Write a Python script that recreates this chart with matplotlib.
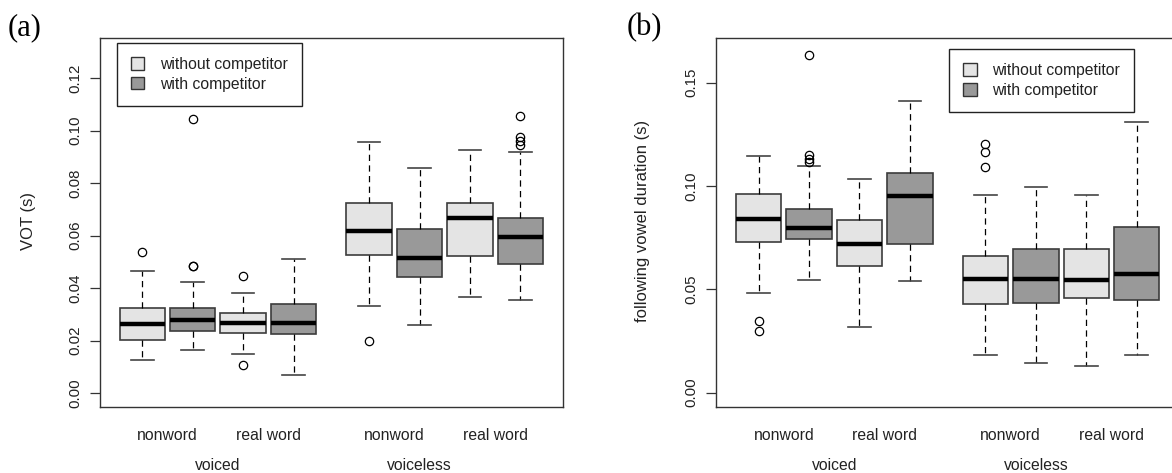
import matplotlib
matplotlib.use("Agg")
import matplotlib.pyplot as plt
from matplotlib.patches import Patch
import matplotlib.transforms as mtransforms

# ---------------- data ----------------
conditions = ["without competitor", "with competitor"]
word_types = ["nonword", "real word"]
voicing = ["voiced", "voiceless"]

# order: voiced-nonword(without, with), voiced-real(without, with),
#        voiceless-nonword(without, with), voiceless-real(without, with)
vot_whislo = [0.0125, 0.0165, 0.0147, 0.0067, 0.0331, 0.0261, 0.0366, 0.0353]
vot_q1     = [0.0203, 0.0238, 0.0227, 0.0224, 0.0527, 0.0441, 0.0523, 0.0493]
vot_med    = [0.0264, 0.0280, 0.0268, 0.0268, 0.0617, 0.0516, 0.0666, 0.0594]
vot_q3     = [0.0324, 0.0324, 0.0305, 0.0338, 0.0726, 0.0627, 0.0726, 0.0669]
vot_whishi = [0.0467, 0.0422, 0.0380, 0.0512, 0.0955, 0.0857, 0.0928, 0.0918]
vot_fliers = [[0.0537], [0.0483, 0.0486, 0.1045], [0.0447, 0.0106], [],
              [0.0200], [], [], [0.0947, 0.0962, 0.0977, 0.1054]]

dur_whislo = [0.0482, 0.0545, 0.0316, 0.0540, 0.0182, 0.0145, 0.0129, 0.0182]
dur_q1     = [0.0728, 0.0745, 0.0611, 0.0718, 0.0431, 0.0435, 0.0460, 0.0450]
dur_med    = [0.0842, 0.0798, 0.0721, 0.0952, 0.0550, 0.0550, 0.0545, 0.0573]
dur_q3     = [0.0961, 0.0889, 0.0836, 0.1064, 0.0663, 0.0697, 0.0694, 0.0802]
dur_whishi = [0.1147, 0.1095, 0.1035, 0.1411, 0.0956, 0.0994, 0.0956, 0.1308]
dur_fliers = [[0.0348, 0.0300], [0.1635, 0.1150, 0.1129, 0.1118], [], [],
              [0.1203, 0.1163, 0.1090], [], [], []]

vot_ticks = [0.00, 0.02, 0.04, 0.06, 0.08, 0.10, 0.12]
dur_ticks = [0.00, 0.05, 0.10, 0.15]

# ---------------- style ----------------
LIGHT = "#e4e4e4"
DARK = "#999999"
EDGE = "#3c3c3c"
SANS = ["Liberation Sans", "DejaVu Sans"]
plt.rcParams["font.family"] = SANS

positions = [1, 2, 3, 4, 5.5, 6.5, 7.5, 8.5]
faces = [LIGHT, DARK] * 4

W, H = 1172, 473
fig = plt.figure(figsize=(W / 100, H / 100), dpi=100)

ax_w = 462.7 / W
ax_h = 368.4 / H
ax_b = 1 - 406.7 / H
axA = fig.add_axes([100 / W, ax_b, ax_w, ax_h])
axB = fig.add_axes([716.3 / W, ax_b, ax_w, ax_h])


def draw(ax, lo, q1, med, q3, hi, fl, ylim, ticks, ticklabels, leg_anchor):
    stats = []
    for i in range(len(med)):
        stats.append(dict(med=med[i], q1=q1[i], q3=q3[i], whislo=lo[i],
                          whishi=hi[i], fliers=fl[i]))
    res = ax.bxp(stats, positions=positions, widths=0.9, capwidths=0.45,
                 patch_artist=True, showfliers=True,
                 boxprops=dict(edgecolor=EDGE, linewidth=1.2),
                 medianprops=dict(color="black", linewidth=3.2,
                                  solid_capstyle="butt"),
                 whiskerprops=dict(color="black", linewidth=0.9,
                                   linestyle=(0, (5, 3.5))),
                 capprops=dict(color="#444444", linewidth=1.2),
                 flierprops=dict(marker="o", markerfacecolor="none",
                                 markeredgecolor="black", markersize=6,
                                 markeredgewidth=0.9, linestyle="none"))
    for patch, fc in zip(res["boxes"], faces):
        patch.set_facecolor(fc)

    ax.set_xlim(0.16, 9.34)
    ax.set_ylim(*ylim)
    ax.set_yticks(ticks)
    ax.set_yticklabels(ticklabels, rotation=90, va="center",
                       fontsize=10.8, color="#222222")
    ax.tick_params(axis="y", length=7, width=0.9, color="#333333", pad=6)
    ax.set_xticks([1.5, 3.5, 6, 8])
    ax.set_xticklabels(word_types * 2, fontsize=11.3, color="#222222")
    ax.tick_params(axis="x", length=0, pad=15)
    for s in ax.spines.values():
        s.set_color("#333333")
        s.set_linewidth(1.0)

    trans = mtransforms.blended_transform_factory(ax.transData, ax.transAxes)
    ax.text(2.5, -0.1718, voicing[0], transform=trans, ha="center",
            va="baseline", fontsize=11.3, color="#222222")
    ax.text(6.5, -0.1718, voicing[1], transform=trans, ha="center",
            va="baseline", fontsize=11.3, color="#222222")

    handles = [Patch(facecolor=LIGHT, edgecolor="#333333", linewidth=1),
               Patch(facecolor=DARK, edgecolor="#333333", linewidth=1)]
    leg = ax.legend(handles, conditions, loc="upper left",
                    bbox_to_anchor=leg_anchor, borderaxespad=0,
                    fontsize=11.3, frameon=True, fancybox=False,
                    edgecolor="#222222", framealpha=1, handlelength=0.85,
                    handleheight=0.85, handletextpad=1.0, labelspacing=0.3,
                    borderpad=0.9)
    leg.get_frame().set_linewidth(1.0)
    for t in leg.get_texts():
        t.set_color("#222222")


draw(axA, vot_whislo, vot_q1, vot_med, vot_q3, vot_whishi, vot_fliers,
     (-0.0052, 0.1352), vot_ticks, ["%.2f" % v for v in vot_ticks],
     (16.7 / 462.7, 1 - 4.4 / 368.4))
draw(axB, dur_whislo, dur_q1, dur_med, dur_q3, dur_whishi, dur_fliers,
     (-0.0068, 0.1715), dur_ticks, ["%.2f" % v for v in dur_ticks],
     (233 / 462.7, 1 - 10.7 / 368.4))

# y labels
fig.text(29 / W, 1 - 221 / H, "VOT (s)", rotation=90, ha="center",
         va="center", fontsize=12, color="#222222")
fig.text(643 / W, 1 - 221 / H, "following vowel duration (s)", rotation=90,
         ha="center", va="center", fontsize=12, color="#222222")

# panel letters
fig.text(8 / W, 1 - 35 / H, "(a)", ha="left", va="baseline", fontsize=22,
         family=["Liberation Serif", "DejaVu Serif"])
fig.text(627 / W, 1 - 35 / H, "(b)", ha="left", va="baseline", fontsize=22,
         family=["Liberation Serif", "DejaVu Serif"])

fig.savefig("out.png", dpi=100)
